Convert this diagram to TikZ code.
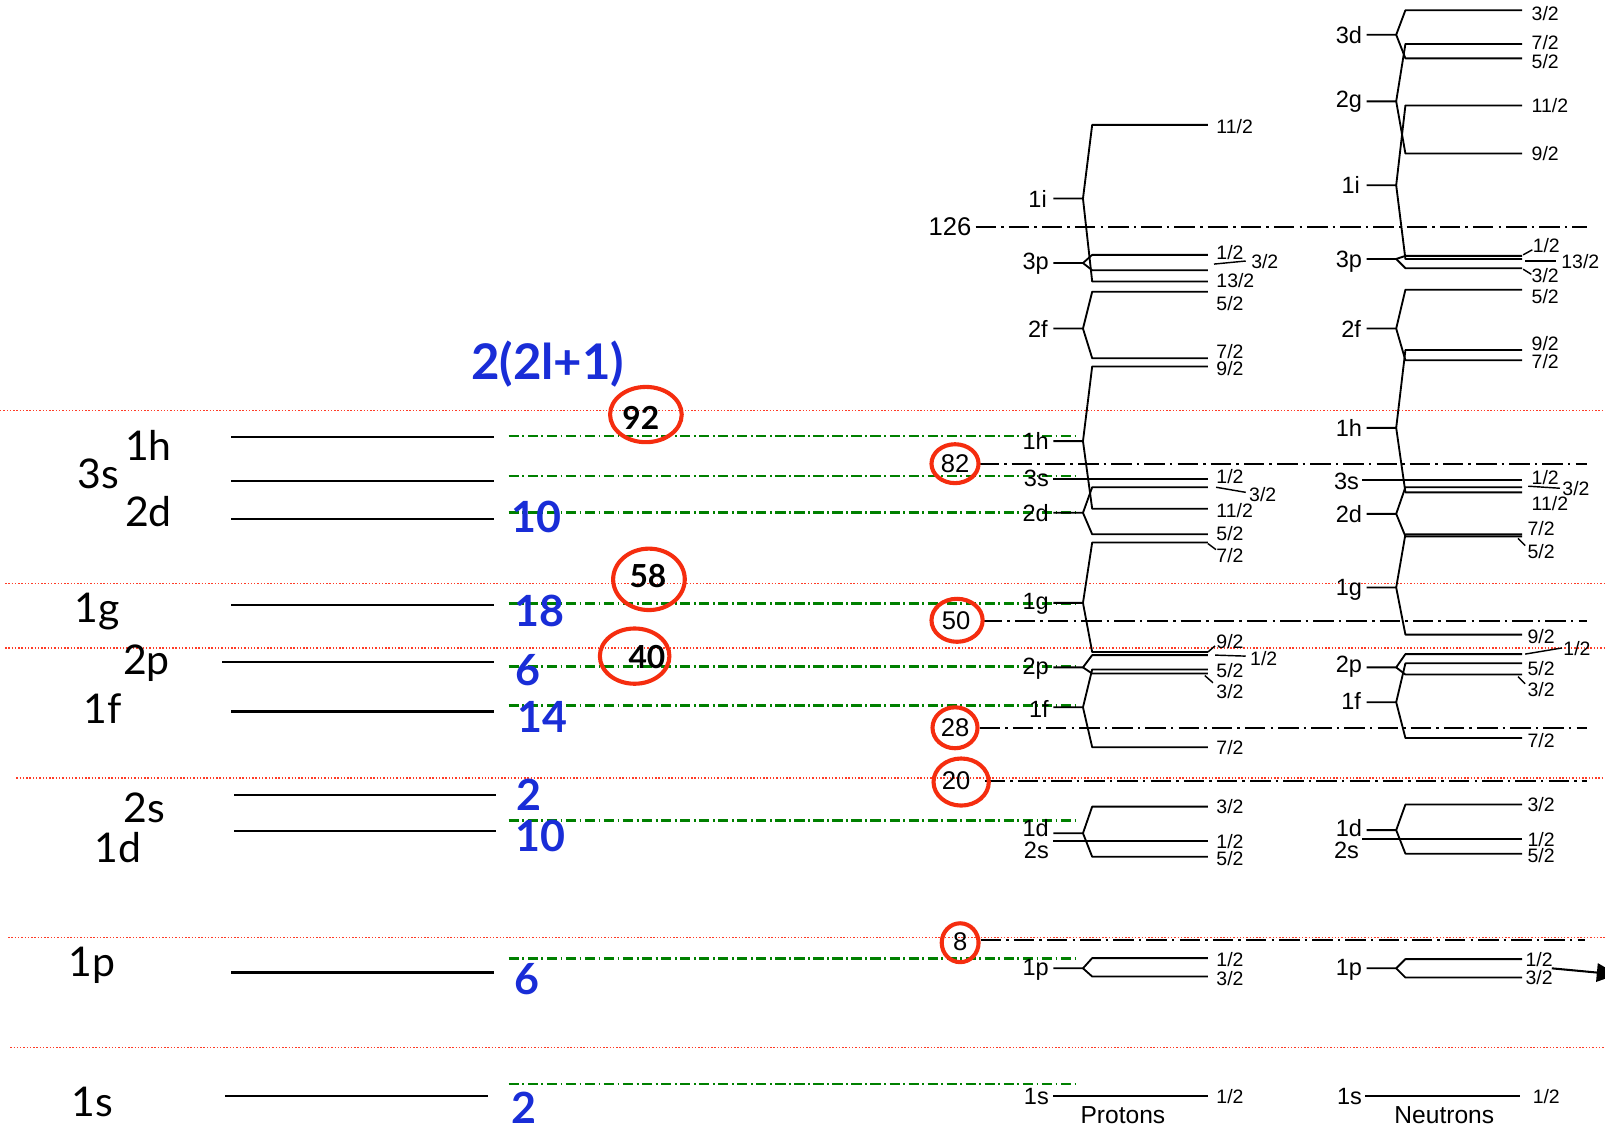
\documentclass[tikz,border=0pt]{standalone}
\usepackage{fontspec}
\setmainfont{Liberation Sans}
\newfontfamily\lfont{Lato}
\usetikzlibrary{arrows.meta}
\definecolor{grn}{RGB}{0,128,0}
\definecolor{rdc}{RGB}{245,45,15}
\definecolor{rdl}{RGB}{255,60,40}
\definecolor{blu}{RGB}{25,45,215}
\newcommand\PBr[3]{\draw[lev] (1029,#1) -- (1058,#1) -- (1067,#2) -- (1180,#2); \draw[lev] (1058,#1) -- (1067,#3) -- (1180,#3);}
\newcommand\NBr[3]{\draw[lev] (1335,#1) -- (1364,#1) -- (1373,#2) -- (1487,#2); \draw[lev] (1364,#1) -- (1373,#3) -- (1487,#3);}
\tikzset{
 lev/.style={line width=0.9pt, line join=round},
 magic/.style={line width=1.1pt, dash pattern=on 10pt off 2.5pt on 1.2pt off 2.5pt},
 grnl/.style={draw=grn, line width=1.4pt, dash pattern=on 5pt off 1.7pt on 0.9pt off 1.7pt},
 rdot/.style={draw=rdl, line width=0.6pt, dash pattern=on 0.7pt off 0.9pt},
 rcirc/.style={draw=rdc, line width=2pt},
 leftlev/.style={line width=1.1pt},
 llab/.style={font=\lfont\fontsize{20}{22}\selectfont, inner sep=0},
 blab/.style={text=blu, font=\lfont\bfseries\fontsize{21}{23}\selectfont, inner sep=0},
 cnum/.style={font=\lfont\bfseries\fontsize{15.5}{17}\selectfont, inner sep=0},
 snum/.style={font=\fontsize{12.5}{14}\selectfont, inner sep=0},
 shl/.style={font=\fontsize{11.5}{13}\selectfont, inner sep=0, anchor=east},
 jl/.style={font=\fontsize{9.5}{11}\selectfont, inner sep=0, anchor=west},
 tiny/.style={line width=0.7pt},
}
\begin{document}
\begin{tikzpicture}[x=0.5pt,y=-0.5pt]
\useasboundingbox (0,0) rectangle (1568,1106);
\clip (0,0) rectangle (1568,1106);
\fill[white] (0,0) rectangle (1568,1106);

% red dotted separators
\foreach \yy/\xs in {401/0, 570/5, 633/5, 760/16, 916/8, 1023/10}
  \draw[rdot] (\xs,\yy) -- (1568,\yy);

% left levels
\foreach \yy/\a/\b in {427/226/483, 470/226/483, 507/226/483, 591/226/483, 647/217/483, 695/226/483, 777/229/485, 812/229/485, 950/226/483, 1071/220/477}
  \draw[leftlev] (\a,\yy) -- (\b,\yy);

% left labels
\node[llab] (l1h) at (145,435) {1h};
\node[llab] (l3s) at (96,463) {3s};
\node[llab] (l2d) at (145,500) {2d};
\node[llab] (l1g) at (95,597) {1g};
\node[llab] (l2p) at (143,648) {2p};
\node[llab] (l1f) at (100,692) {1f};
\node[llab] (l2s) at (141,789) {2s};
\node[llab] (l1d) at (115,828) {1d};
\node[llab] (l1p) at (90,943) {1p};
\node[llab] (l1s) at (90,1077) {1s};

% green dash-dot lines
\foreach \yy in {426,465,501,590,651,689,802,936,1059}
  \draw[grnl] (497,\yy) -- (1052,\yy);

% blue numbers
\node[blab, font=\lfont\bfseries\fontsize{24}{26}\selectfont] (deg) at (535,356) {2(2l+1)};
\node[blab] (b10a) at (524,505) {10};
\node[blab] (b18) at (527,597) {18};
\node[blab] (b6a) at (516,655) {6};
\node[blab] (b14) at (530,700) {14};
\node[blab] (b2a) at (517,776) {2};
\node[blab] (b10b) at (528,817) {10};
\node[blab] (b6b) at (515,957) {6};
\node[blab] (b2b) at (512,1082) {2};

% circled numbers (left)
\node[cnum] (c92) at (626,408) {92};
\draw[rcirc] (631,405) ellipse [x radius=35, y radius=27];
\node[cnum] (c58) at (633,563) {58};
\draw[rcirc] (634,566) ellipse [x radius=35, y radius=30];
\node[cnum] (c40) at (632,642) {40};
\draw[rcirc] (620,641) ellipse [x radius=34, y radius=27];

% magic numbers of the scanned scheme
\node[snum] (m126) at (928,221) {126};
\node[snum] (m82) at (933,453) {82};
\node[snum] (m50) at (934,606) {50};
\node[snum] (m28) at (933,711) {28};
\node[snum] (m20) at (934,763) {20};
\node[snum] (m8) at (938,920) {8};
\coordinate (e126) at (1550,222);
\coordinate (e82) at (1550,453);
\coordinate (e50) at (1550,607);
\coordinate (e28) at (1550,711);
\coordinate (e20) at (1550,763);
\coordinate (e8) at (1548,918);
\draw[magic] (953,222) -- (e126);
\draw[magic] (956,453) -- (e82);
\draw[magic] (959,607) -- (e50);
\draw[magic] (957,711) -- (e28);
\draw[magic] (962,763) -- (e20);
\draw[magic] (958,918) -- (e8);
\draw[rcirc] (933,453) ellipse [x radius=23, y radius=19];
\draw[rcirc] (935,606) ellipse [x radius=25, y radius=21];
\draw[rcirc] (933,711) ellipse [x radius=22, y radius=20];
\draw[rcirc] (939,764) ellipse [x radius=27, y radius=23];
\draw[rcirc] (938,921) ellipse [x radius=18, y radius=19];

% ---------- Protons ----------
\PBr{194}{122}{275}
\PBr{257}{249}{264}
\PBr{321}{285}{350}
\PBr{431}{358}{497}
\draw[lev] (1029,468) -- (1180,468);
\PBr{501}{476}{522}
\PBr{589}{530}{637}
\PBr{652}{640}{658}
\PBr{691}{654}{730}
\PBr{814}{788}{837}
\draw[lev] (1029,822) -- (1180,822);
\PBr{946}{936}{954}
\draw[lev] (1029,1071) -- (1180,1071);

\node[shl] (p1i) at (1023,194) {1i};
\node[shl] (p3p) at (1025,258) {3p};
\node[shl] (p2f) at (1024,321) {2f};
\node[shl] (p1h) at (1025,431) {1h};
\node[shl] (p3s) at (1025,467) {3s};
\node[shl] (p2d) at (1025,501) {2d};
\node[shl] (p1g) at (1025,590) {1g};
\node[shl] (p2p) at (1025,653) {2p};
\node[shl] (p1f) at (1025,693) {1f};
\node[shl] (p1d) at (1025,809) {1d};
\node[shl] (p2s) at (1025,831) {2s};
\node[shl] (p1p) at (1025,947) {1p};
\node[shl] (p1s) at (1025,1071) {1s};

\node[jl] at (1188,124) {11/2};
\node[jl] at (1188,247) {1/2};
\node[jl] at (1222,256) {3/2};
\node[jl] at (1188,274) {13/2};
\node[jl] at (1188,297) {5/2};
\node[jl] at (1188,343) {7/2};
\node[jl] at (1188,360) {9/2};
\node[jl] at (1188,466) {1/2};
\node[jl] at (1220,483) {3/2};
\node[jl] at (1188,499) {11/2};
\node[jl] at (1188,521) {5/2};
\node[jl] at (1188,543) {7/2};
\node[jl] at (1188,627) {9/2};
\node[jl] at (1221,643) {1/2};
\node[jl] at (1188,655) {5/2};
\node[jl] at (1188,676) {3/2};
\node[jl] at (1188,730) {7/2};
\node[jl] at (1188,788) {3/2};
\node[jl] at (1188,822) {1/2};
\node[jl] at (1188,839) {5/2};
\node[jl] at (1188,937) {1/2};
\node[jl] at (1188,956) {3/2};
\node[jl] at (1188,1071) {1/2};
\draw[tiny] (1186,258) -- (1217,255);
\draw[tiny] (1188,476) -- (1217,481);
\draw[tiny] (1180,531) -- (1188,537);
\draw[tiny] (1180,637) -- (1187,631);
\draw[tiny] (1187,640) -- (1217,641);
\draw[tiny] (1177,660) -- (1185,667);
\node[font=\fontsize{12}{13}\selectfont, inner sep=0] (prot) at (1097,1089) {Protons};

% ---------- Neutrons ----------
\NBr{34}{10}{57}
\NBr{99}{43}{150}
\NBr{181}{103}{253}
\NBr{253}{250}{262}
\NBr{321}{283}{352}
\draw[lev] (1373,342) -- (1487,342);
\NBr{418}{342}{481}
\draw[lev] (1331,469) -- (1487,469);
\NBr{502}{476}{524}
\NBr{574}{522}{620}
\NBr{652}{639}{659}
\NBr{686}{648}{721}
\NBr{811}{786}{834}
\draw[lev] (1331,820) -- (1487,820);
\NBr{946}{937}{955}
\draw[lev] (1334,1071) -- (1485,1071);

\node[shl] (n3d) at (1331,34) {3d};
\node[shl] (n2g) at (1331,99) {2g};
\node[shl] (n1i) at (1329,181) {1i};
\node[shl] (n3p) at (1331,256) {3p};
\node[shl] (n2f) at (1330,321) {2f};
\node[shl] (n1h) at (1331,418) {1h};
\node[shl] (n3s) at (1328,470) {3s};
\node[shl] (n2d) at (1331,502) {2d};
\node[shl] (n1g) at (1331,576) {1g};
\node[shl] (n2p) at (1331,651) {2p};
\node[shl] (n1f) at (1330,685) {1f};
\node[shl] (n1d) at (1331,809) {1d};
\node[shl] (n2s) at (1328,831) {2s};
\node[shl] (n1p) at (1331,947) {1p};
\node[shl] (n1s) at (1331,1071) {1s};

\node[jl] at (1496,13) {3/2};
\node[jl] at (1496,42) {7/2};
\node[jl] at (1496,60) {5/2};
\node[jl] at (1496,103) {11/2};
\node[jl] at (1496,150) {9/2};
\node[jl] at (1497,240) {1/2};
\node[jl] at (1525,256) {13/2};
\node[jl] at (1496,269) {3/2};
\node[jl] at (1496,290) {5/2};
\node[jl] at (1496,336) {9/2};
\node[jl] at (1496,353) {7/2};
\node[jl] at (1496,467) {1/2};
\node[jl] at (1526,477) {3/2};
\node[jl] at (1496,492) {11/2};
\node[jl] at (1492,516) {7/2};
\node[jl] at (1492,539) {5/2};
\node[jl] at (1492,622) {9/2};
\node[jl] at (1527,634) {1/2};
\node[jl] at (1492,653) {5/2};
\node[jl] at (1492,674) {3/2};
\node[jl] at (1492,723) {7/2};
\node[jl] at (1492,786) {3/2};
\node[jl] at (1492,820) {1/2};
\node[jl] at (1492,836) {5/2};
\node[jl] at (1490,937) {1/2};
\node[jl] at (1490,955) {3/2};
\node[jl] at (1497,1071) {1/2};
\draw[tiny] (1488,249) -- (1497,244);
\draw[tiny] (1490,255) -- (1520,255);
\draw[tiny] (1488,263) -- (1496,268);
\draw[tiny] (1493,475) -- (1524,477);
\draw[tiny] (1483,526) -- (1490,533);
\draw[tiny] (1490,639) -- (1526,633);
\draw[tiny] (1483,661) -- (1490,668);
\node[font=\fontsize{12}{13}\selectfont, inner sep=0] (neut) at (1411,1089) {Neutrons};

% arrow at the right edge
\coordinate (as) at (1516,946);
\coordinate (ae) at (1580,952);
\draw[line width=1pt, -{Triangle[length=10pt, width=9pt]}] (as) -- (ae);
\end{tikzpicture}
\end{document}
